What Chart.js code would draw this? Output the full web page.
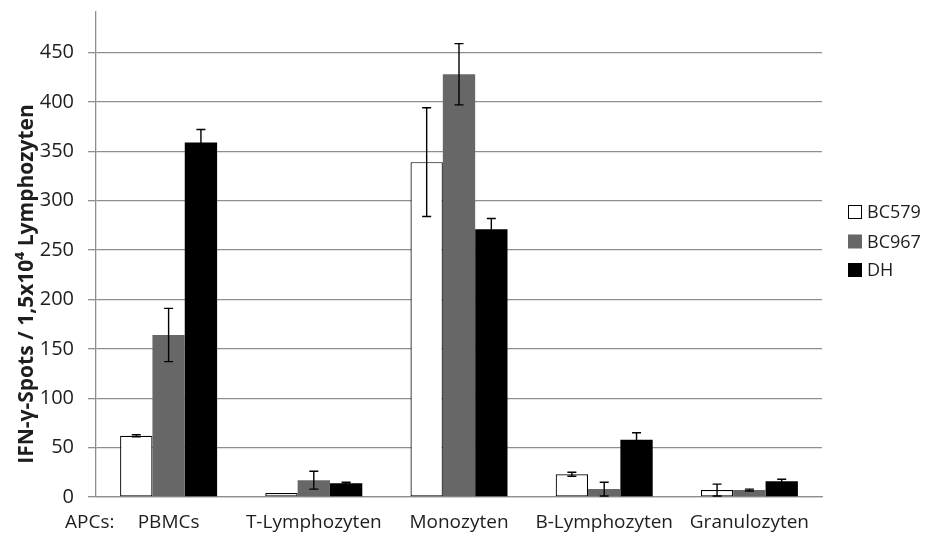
<!DOCTYPE html>
<html>
<head>
<meta charset="utf-8">
<script src="https://cdn.jsdelivr.net/npm/chart.js@4/dist/chart.umd.min.js"></script>
<style>
  html, body { margin: 0; padding: 0; background: #ffffff; }
  #wrap { width: 928px; height: 533px; }
</style>
</head>
<body>
<div id="wrap"><canvas id="chart" width="928" height="533"></canvas></div>
<script>
// Antigen-presenting cell types on the x axis
const categories = ['PBMCs', 'T-Lymphozyten', 'Monozyten', 'B-Lymphozyten', 'Granulozyten'];

// Mean IFN-γ spots per 1.5x10^4 lymphocytes and their error margins
const bc579    = [62, 4, 339, 23, 7];
const bc579Err = [1, 0, 55, 2, 6];
const bc967    = [164, 17, 428, 8, 7];
const bc967Err = [27, 9, 31, 7, 1];
const dh       = [359, 14, 271, 58, 16];
const dhErr    = [13, 1, 11, 7, 2];

const seriesNames = ['BC579', 'BC967', 'DH'];
const yTicks = [0, 50, 100, 150, 200, 250, 300, 350, 400, 450];

const yTitle = 'IFN-γ-Spots / 1,5x10⁴ Lymphozyten';
const axisPrefix = 'APCs:';

const FONT = '"Open Sans", "Liberation Sans", sans-serif';
const TEXT = '#1e1e1e';
const GRID = '#8e8e8e';
const X_FONT_SIZE = 19;
const X_PAD = 14;

// Vertical error bars with caps, drawn over each bar
const errorBars = {
  id: 'errorBars',
  afterDatasetsDraw(chart) {
    const ctx = chart.ctx;
    const y = chart.scales.y;
    ctx.save();
    ctx.strokeStyle = '#000';
    ctx.lineWidth = 1.4;
    chart.data.datasets.forEach((ds, di) => {
      const meta = chart.getDatasetMeta(di);
      meta.data.forEach((bar, i) => {
        const e = ds.errors[i];
        if (!e) return;
        const v = ds.data[i];
        const top = y.getPixelForValue(v + e);
        const bot = y.getPixelForValue(Math.max(0, v - e));
        const x = bar.x;
        const cap = 4.5;
        ctx.beginPath();
        ctx.moveTo(x, top); ctx.lineTo(x, bot);
        ctx.moveTo(x - cap, top); ctx.lineTo(x + cap, top);
        ctx.moveTo(x - cap, bot); ctx.lineTo(x + cap, bot);
        ctx.stroke();
      });
    });
    ctx.restore();
  }
};

// Rotated y title, axis prefix label and the right-hand legend
const annotations = {
  id: 'annotations',
  afterDraw(chart) {
    const ctx = chart.ctx;
    const area = chart.chartArea;
    ctx.save();

    // y-axis title
    ctx.translate(27, 284);
    ctx.rotate(-Math.PI / 2);
    ctx.font = 'bold 21px ' + FONT;
    ctx.fillStyle = TEXT;
    ctx.textAlign = 'center';
    ctx.textBaseline = 'middle';
    ctx.fillText(yTitle, 0, 0);
    ctx.setTransform(1, 0, 0, 1, 0, 0);

    // prefix in front of the category labels, on the same line
    const xs = chart.scales.x;
    ctx.font = X_FONT_SIZE + 'px ' + FONT;
    ctx.textAlign = 'left';
    ctx.textBaseline = 'middle';
    ctx.fillText(axisPrefix, 65, xs.top + X_PAD + X_FONT_SIZE * 1.2 / 2);

    // legend
    const lx = area.right + 26;
    const rows = [212, 241.5, 270];
    chart.data.datasets.forEach((ds, i) => {
      const cy = rows[i];
      ctx.fillStyle = ds.backgroundColor;
      ctx.fillRect(lx, cy - 7, 14, 14);
      if (ds.borderWidth) {
        ctx.strokeStyle = ds.borderColor;
        ctx.lineWidth = 1;
        ctx.strokeRect(lx + 0.5, cy - 6.5, 13, 13);
      }
      ctx.fillStyle = TEXT;
      ctx.font = '18px ' + FONT;
      ctx.textAlign = 'left';
      ctx.textBaseline = 'middle';
      ctx.fillText(ds.label, lx + 19, cy + 1);
    });
    ctx.restore();
  }
};

new Chart(document.getElementById('chart'), {
  type: 'bar',
  data: {
    labels: categories,
    datasets: [
      { label: seriesNames[0], data: bc579, errors: bc579Err, backgroundColor: '#ffffff',
        borderColor: '#000000', borderWidth: 1.2, borderSkipped: false },
      { label: seriesNames[1], data: bc967, errors: bc967Err, backgroundColor: '#676767', borderWidth: 0 },
      { label: seriesNames[2], data: dh, errors: dhErr, backgroundColor: '#000000', borderWidth: 0 }
    ]
  },
  options: {
    responsive: false,
    animation: false,
    events: [],
    layout: { padding: { top: 12, right: 106, bottom: 0, left: 0 } },
    datasets: { bar: { categoryPercentage: 0.668, barPercentage: 1.0 } },
    plugins: {
      legend: { display: false },
      tooltip: { enabled: false }
    },
    scales: {
      x: {
        afterFit(scale) { scale.height = 36; },
        grid: { display: false, drawTicks: false },
        border: { display: true, color: GRID, width: 1.3 },
        ticks: { color: TEXT, font: { family: FONT, size: X_FONT_SIZE }, padding: X_PAD, maxRotation: 0, autoSkip: false }
      },
      y: {
        min: 0,
        max: 491,
        afterFit(scale) { scale.width = 96; scale.paddingTop = 0; },
        afterBuildTicks(scale) { scale.ticks = yTicks.map(v => ({ value: v })); },
        grid: { color: GRID, lineWidth: 1.3, tickLength: 8, drawTicks: true },
        border: { display: true, color: GRID, width: 1.3 },
        ticks: { color: TEXT, font: { family: FONT, size: 20 }, padding: 14 }
      }
    }
  },
  plugins: [errorBars, annotations]
});
</script>
</body>
</html>
